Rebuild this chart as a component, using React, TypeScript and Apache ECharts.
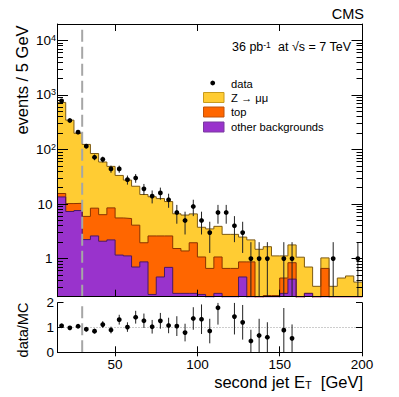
import { useEffect, useRef } from "react";
import * as echarts from "echarts";

// ---- data ----
const binEdges = [15, 20, 25, 30, 35, 40, 45, 50, 55, 60, 65, 70, 75, 80, 85, 90, 95, 100, 105, 110, 115, 120, 125, 130, 135, 140, 145, 150, 155, 160, 165, 170, 175, 180, 185, 190, 195, 200];
const dataCounts = [780, 340, 208, 115, 72, 66, 44, 44, 28, 30, 19, 14, 16, 12, 7, 5, 9, 5, 3, 7, 7, 4, 3, 1, 1, 1, 0, 1, 1, 0, 0, 0, 0, 1, 0, 0, 1];
const zmumu = [714, 335, 188, 118, 76, 52.6, 40.5, 27.9, 22.1, 17.1, 13.0, 11.0, 10.0, 8.5, 5.1, 4.9, 4.65, 2.68, 2.84, 2.83, 2.12, 2.12, 1.61, 1.33, 1.48, 1.44, 0.91, 0.68, 0.94, 1.06, 0.47, 0.31, 0.37, 0.31, 0.44, 0.48, 0.37];
const ttbar = [2.1, 2.9, 2.7, 3.7, 5.8, 4.3, 6.3, 4.4, 4.3, 3.4, 1.08, 2.38, 2.14, 1.91, 1.3, 1.15, 1.72, 0.85, 0.66, 0.84, 0.66, 0.66, 0.41, 0.87, 0, 0.21, 0.21, 0.21, 0.42, 0, 0, 0, 0.66, 0, 0, 0, 0];
const otherBkg = [13.5, 7.3, 7.6, 2.23, 2.6, 2.08, 2.2, 1.16, 1.12, 0.7, 0.87, 0.22, 0.46, 0.69, 0.23, 0.23, 0.23, 0.22, 0, 0.23, 0, 0, 0.46, 0, 0, 0, 0, 0.23, 0.42, 0, 0.23, 0, 0, 0, 0, 0, 0];
const xTicks = [50, 100, 150, 200];
const yMajorTicks = [1, 10, 100, 1000, 10000];
const ratioTicks = [0, 1, 2];
const cutValue = 30;

const FONT = "'Liberation Sans', Arial, Helvetica, sans-serif";
const Y_MIN = 0.2;
const Y_MAX = 20000;
const FLOOR = 0.01;

const yMinorTicks: number[] = [];
for (let e = -1; e <= 4; e++) {
  for (let k = 2; k <= 9; k++) {
    const v = k * Math.pow(10, e);
    if (v >= Y_MIN - 1e-9 && v <= Y_MAX + 1e-9) yMinorTicks.push(v);
  }
}

const purpleTop = otherBkg.map((v) => v);
const orangeTop = otherBkg.map((v, i) => v + ttbar[i]);
const totalMC = otherBkg.map((v, i) => v + ttbar[i] + zmumu[i]);

function stepData(values: number[]) {
  const pts: number[][] = values.map((v, i) => [binEdges[i], v > 0 ? v : FLOOR]);
  const last = values[values.length - 1];
  pts.push([binEdges[values.length], last > 0 ? last : FLOOR]);
  return pts;
}

const centers = dataCounts.map((_, i) => (binEdges[i] + binEdges[i + 1]) / 2);

const mainPoints: number[][] = [];
dataCounts.forEach((d, i) => {
  if (d > 0) {
    const e = Math.sqrt(d);
    mainPoints.push([centers[i], d, Math.max(d - e, Y_MIN), d + e]);
  }
});

const ratioPoints: number[][] = [];
dataCounts.forEach((d, i) => {
  if (d > 0) {
    const r = d / totalMC[i];
    const e = Math.sqrt(d) / totalMC[i];
    if (r <= 2) ratioPoints.push([centers[i], r, Math.max(r - e, 0), Math.min(r + e, 2)]);
  }
});

const errRender = (params: any, api: any) => {
  const x = api.value(0);
  const v = api.value(1);
  const lo = api.value(2);
  const hi = api.value(3);
  const pLo = api.coord([x, lo]);
  const pHi = api.coord([x, hi]);
  const p = api.coord([x, v]);
  return {
    type: "group",
    children: [
      { type: "line", shape: { x1: pLo[0], y1: pLo[1], x2: pHi[0], y2: pHi[1] }, style: { stroke: "#222", lineWidth: 1 } },
      { type: "circle", shape: { cx: p[0], cy: p[1], r: 2.4 }, style: { fill: "#000" } },
    ],
  };
};

const yLabelFormatter = (v: number) => {
  const e = Math.round(Math.log10(v));
  if (e === 0) return "{p|1}";
  if (e === 1) return "{p|10}";
  return "{b|10}{s|" + e + "}";
};

export default function App() {
  const ref = useRef<HTMLDivElement>(null);
  useEffect(() => {
    if (!ref.current) return;
    const chart = echarts.init(ref.current, undefined, { renderer: "svg" });
    const axisLine = { show: true, lineStyle: { color: "#000", width: 1 } };
    const tickStyle = { color: "#000", width: 1 };
    const mainGrid = { left: 57.5, top: 24, width: 304.5, height: 272.7 };
    const ratioGrid = { left: 57.5, top: 302.7, width: 304.5, height: 49.6 };

    const logAxisBase = { type: "log", logBase: 10, min: Y_MIN, max: Y_MAX, gridIndex: 0, splitLine: { show: false }, z: 10 };

    const option: any = {
      animation: false,
      backgroundColor: "#fff",
      textStyle: { fontFamily: FONT },
      grid: [mainGrid, ratioGrid],
      xAxis: [
        { type: "value", gridIndex: 0, min: 15, max: 200, position: "bottom", axisLine, splitLine: { show: false }, axisLabel: { show: false }, axisTick: { inside: true, length: 7, lineStyle: tickStyle, customValues: xTicks }, z: 10 },
        { type: "value", gridIndex: 0, min: 15, max: 200, position: "top", axisLine, splitLine: { show: false }, axisLabel: { show: false }, axisTick: { inside: true, length: 7, lineStyle: tickStyle, customValues: xTicks }, z: 10 },
        { type: "value", gridIndex: 1, min: 15, max: 200, position: "bottom", axisLine, splitLine: { show: false },
          axisLabel: { show: true, customValues: xTicks, fontSize: 13.5, color: "#000", margin: 5, fontFamily: FONT },
          axisTick: { inside: true, length: 6, lineStyle: tickStyle, customValues: xTicks }, z: 10 },
        { type: "value", gridIndex: 1, min: 15, max: 200, position: "top", axisLine, splitLine: { show: false }, axisLabel: { show: false }, axisTick: { inside: true, length: 4, lineStyle: tickStyle, customValues: xTicks }, z: 10 },
      ],
      yAxis: [
        { ...logAxisBase, position: "left", axisLine,
          axisTick: { inside: true, length: 10.5, lineStyle: tickStyle, customValues: yMajorTicks },
          axisLabel: { show: true, customValues: yMajorTicks, margin: 1, formatter: yLabelFormatter, color: "#000",
            rich: {
              p: { fontSize: 13.5, fontFamily: FONT, color: "#000", padding: [0, 4, 0, 0] },
              b: { fontSize: 13.5, fontFamily: FONT, color: "#000" },
              s: { fontSize: 9, fontFamily: FONT, color: "#000", verticalAlign: "top", padding: [0, 0.5, 0, 0] },
            } } },
        { ...logAxisBase, position: "left", axisLine: { show: false }, axisLabel: { show: false },
          axisTick: { inside: true, length: 5.5, lineStyle: tickStyle, customValues: yMinorTicks } },
        { ...logAxisBase, position: "right", axisLine, axisLabel: { show: false },
          axisTick: { inside: true, length: 10.5, lineStyle: tickStyle, customValues: yMajorTicks } },
        { ...logAxisBase, position: "right", axisLine: { show: false }, axisLabel: { show: false },
          axisTick: { inside: true, length: 5.5, lineStyle: tickStyle, customValues: yMinorTicks } },
        { type: "value", gridIndex: 1, min: 0, max: 2, position: "left", axisLine, splitLine: { show: false },
          axisTick: { inside: true, length: 6, lineStyle: tickStyle, customValues: ratioTicks },
          axisLabel: { show: true, customValues: ratioTicks, fontSize: 13.5, color: "#000", margin: 3.5, fontFamily: FONT }, z: 10 },
        { type: "value", gridIndex: 1, min: 0, max: 2, position: "right", axisLine, splitLine: { show: false },
          axisTick: { inside: true, length: 6, lineStyle: tickStyle, customValues: ratioTicks },
          axisLabel: { show: false }, z: 10 },
      ],
      series: [
        { type: "line", xAxisIndex: 0, yAxisIndex: 0, step: "end", data: stepData(totalMC), showSymbol: false, symbol: "none", silent: true,
          lineStyle: { color: "#7d5a12", width: 1 }, areaStyle: { color: "#ffcc33", opacity: 1 }, z: 2 },
        { type: "line", xAxisIndex: 0, yAxisIndex: 0, step: "end", data: stepData(orangeTop), showSymbol: false, symbol: "none", silent: true,
          lineStyle: { color: "#8a3300", width: 1 }, areaStyle: { color: "#ff6600", opacity: 1 }, z: 2 },
        { type: "line", xAxisIndex: 0, yAxisIndex: 0, step: "end", data: stepData(purpleTop), showSymbol: false, symbol: "none", silent: true,
          lineStyle: { color: "#4a1768", width: 1 }, areaStyle: { color: "#9933cc", opacity: 1 }, z: 2 },
        { type: "line", xAxisIndex: 0, yAxisIndex: 0, data: [[cutValue, Y_MIN], [cutValue, Y_MAX]], showSymbol: false, symbol: "none", silent: true,
          lineStyle: { color: "#a6a6a6", width: 2, type: [12, 5] }, z: 4 },
        { type: "custom", xAxisIndex: 0, yAxisIndex: 0, data: mainPoints, renderItem: errRender, clip: true, silent: true, z: 5 },
        { type: "line", xAxisIndex: 2, yAxisIndex: 4, data: [[15, 1], [200, 1]], showSymbol: false, symbol: "none", silent: true,
          lineStyle: { color: "#9a9a9a", width: 1, type: [1, 2] }, z: 3 },
        { type: "line", xAxisIndex: 2, yAxisIndex: 4, data: [[cutValue, 0], [cutValue, 2]], showSymbol: false, symbol: "none", silent: true,
          lineStyle: { color: "#a6a6a6", width: 2, type: [12, 5] }, z: 4 },
        { type: "custom", xAxisIndex: 2, yAxisIndex: 4, data: ratioPoints, renderItem: errRender, clip: true, silent: true, z: 5 },
      ],
      graphic: [
        { type: "text", x: 364, y: 14, style: { text: "CMS", align: "right", verticalAlign: "middle", fontSize: 14.5, fontFamily: FONT, fill: "#000" } },
        { type: "text", x: 351, y: 47, style: { text: "36 pb{s|-1}  at √s = 7 TeV", align: "right", verticalAlign: "middle", fontSize: 12.5, fontFamily: FONT, fill: "#000",
          rich: { s: { fontSize: 8.5, fontFamily: FONT, fill: "#000", verticalAlign: "top" } } } },
        { type: "circle", shape: { cx: 212.7, cy: 83, r: 2.4 }, style: { fill: "#000" } },
        { type: "text", x: 231, y: 83.5, style: { text: "data", verticalAlign: "middle", fontSize: 11.2, fontFamily: FONT, fill: "#000" } },
        { type: "rect", shape: { x: 203.5, y: 92.5, width: 20.5, height: 10 }, style: { fill: "#ffcc33", stroke: "#c89b1c", lineWidth: 1 } },
        { type: "text", x: 231, y: 97.5, style: { text: "Z → μμ", verticalAlign: "middle", fontSize: 11.2, fontFamily: FONT, fill: "#000" } },
        { type: "rect", shape: { x: 203.5, y: 107, width: 20.5, height: 10 }, style: { fill: "#ff6600", stroke: "#c0520a", lineWidth: 1 } },
        { type: "text", x: 231, y: 112, style: { text: "top", verticalAlign: "middle", fontSize: 11.2, fontFamily: FONT, fill: "#000" } },
        { type: "rect", shape: { x: 203.5, y: 122, width: 20.5, height: 10 }, style: { fill: "#9933cc", stroke: "#7a3aa0", lineWidth: 1 } },
        { type: "text", x: 231, y: 127, style: { text: "other backgrounds", verticalAlign: "middle", fontSize: 11.2, fontFamily: FONT, fill: "#000" } },
        { type: "text", x: 22, y: 80, rotation: Math.PI / 2, style: { text: "events / 5 GeV", align: "center", verticalAlign: "middle", fontSize: 16.5, fontFamily: FONT, fill: "#000" } },
        { type: "text", x: 23, y: 330, rotation: Math.PI / 2, style: { text: "data/MC", align: "center", verticalAlign: "middle", fontSize: 14.5, fontFamily: FONT, fill: "#000" } },
        { type: "text", x: 363, y: 382, style: { text: "second jet E{t|T}  [GeV]", align: "right", verticalAlign: "middle", fontSize: 16.5, fontFamily: FONT, fill: "#000",
          rich: { t: { fontSize: 11, fontFamily: FONT, fill: "#000", verticalAlign: "bottom" } } } },
      ],
    };
    chart.setOption(option);
    return () => chart.dispose();
  }, []);
  return <div ref={ref} style={{ position: "fixed", left: 0, top: 0, width: 399, height: 397, background: "#fff" }} />;
}
